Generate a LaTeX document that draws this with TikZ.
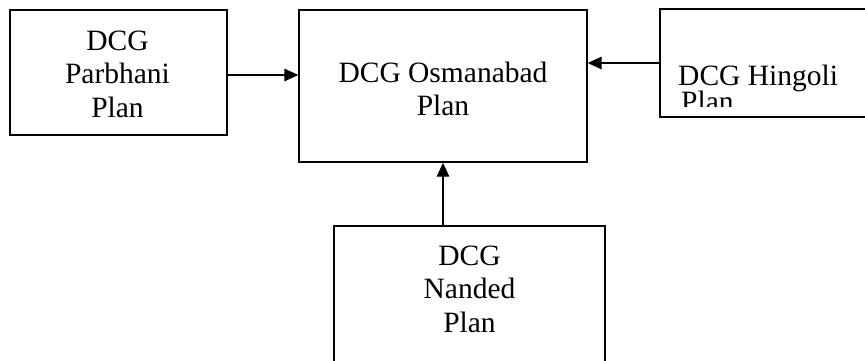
\documentclass[tikz,border=0pt]{standalone}
\usepackage{fontspec}
\setmainfont{Liberation Serif}
\usetikzlibrary{arrows.meta}
\begin{document}
\begin{tikzpicture}[x=1pt,y=-1pt,
  box/.style={draw,rectangle,line width=1.4pt,inner sep=0pt},
  thickbox/.style={box,line width=2.2pt},
  txt/.style={font=\fontsize{29.5}{33.5}\selectfont,inner sep=0pt,anchor=base},
  arr/.style={line width=1.4pt,-{Triangle[length=14pt,width=12.5pt]}}]
\useasboundingbox (0,0) rectangle (865,360);
% boxes
\node[box,minimum width=217pt,minimum height=125pt] (parb) at (118.5,72.5) {};
\node[box,minimum width=288pt,minimum height=152pt] (osm) at (443,86) {};
\node[box,minimum width=208pt,minimum height=108pt] (hing) at (764,63) {};
\node[thickbox,minimum width=271pt,minimum height=140pt] (nand) at (469.5,296) {};
% texts
\node[txt] (parb1) at (117.5,50) {DCG};
\node[txt] (parb2) at (117.5,83) {Parbhani};
\node[txt] (parb3) at (117.5,117) {Plan};
\node[txt] (osm1) at (443,82) {DCG Osmanabad};
\node[txt] (osm2) at (443,115) {Plan};
\node[txt] (nand1) at (469.5,265) {DCG};
\node[txt] (nand2) at (469.5,298) {Nanded};
\node[txt] (nand3) at (469.5,332) {Plan};
\begin{scope}
\clip (662,11) rectangle (866,106.5);
\node[txt,anchor=base west] (hing1) at (678,85) {DCG Hingoli};
\node[txt,anchor=base west] (hing2) at (681,111) {Plan};
\end{scope}
% connectors
\coordinate (p1) at ([yshift=-2.5pt]parb.east);
\draw[arr] (p1) -- (p1 -| osm.west);
\draw[arr] (hing.west) -- (hing.west -| osm.east);
\draw[arr] (osm.south |- nand.north) -- (osm.south);
\end{tikzpicture}
\end{document}
